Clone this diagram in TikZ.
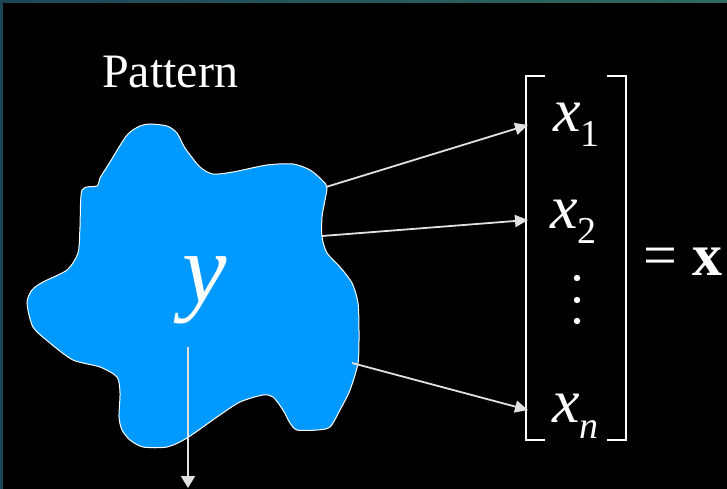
\documentclass[tikz,border=0pt]{standalone}
\usepackage{fontspec}
\setmainfont{Liberation Serif}
\usetikzlibrary{arrows.meta}
\definecolor{blobblue}{RGB}{0,153,255}
\definecolor{frameL}{RGB}{28,70,86}
\definecolor{frameR}{RGB}{47,107,96}
\definecolor{arrowgray}{RGB}{225,225,225}
\newcommand{\xcomp}[2][-15pt]{\textit{x}\raisebox{#1}{\fontsize{38}{38}\selectfont #2}}
\tikzset{
	feat/.style={draw=arrowgray,line width=1.8pt,-{Triangle[length=13pt,width=12pt]}},
	comp/.style={inner sep=0pt,anchor=base west,text=white,font=\fontsize{62}{62}\selectfont},
	brack/.style={draw=white,line width=2pt},
}
\begin{document}
\begin{tikzpicture}[x=1pt,y=-1pt]
		%%Khung nền
		\def \W{727}
		\def \H{489}
		\useasboundingbox (0,0) rectangle (\W,\H);
		\fill[black] (0,0) rectangle (\W,\H);
		\shade[left color=frameL,right color=frameR] (0,0) rectangle (\W,3);
		\fill[frameL] (0,0) rectangle (3,\H);
		%%Hình mẫu
		\draw[white,line width=1pt,fill=blobblue] plot[smooth cycle,tension=0.45] coordinates {
			(140,126) (150,124) (167,126) (177,133) (185,148) (200,167) (213,174)
			(233,172) (267,165) (293,164) (310,170) (322,180) (327,187)
			(325,200) (322,217) (322,237) (327,253) (340,267) (352,283) (358,303)
			(359,333) (358,363) (350,390) (340,410) (330,427) (317,430) (297,430)
			(290,423) (283,410) (273,397) (263,395) (240,402) (217,417) (187,438)
			(167,447) (143,447) (130,440) (122,430) (119,417) (120,393) (117,377)
			(100,367) (73,360) (50,343) (33,327) (27,303) (32,290) (43,282)
			(67,270) (78,253) (80,227) (82,190) (97,186) (100,178) (110,162) (127,135)};
		\node[inner sep=0pt,anchor=base west,text=white,font=\fontsize{48}{48}\selectfont] (pattern) at (102,88) {Pattern};
		\node[inner sep=0pt,anchor=base,text=white,font=\fontsize{100}{100}\selectfont\itshape] (ylbl) at (205,302) {y};
		%%Các điểm đầu, cuối mũi tên
		\coordinate (s1) at (326,187);
		\coordinate (s2) at (322,236);
		\coordinate (sn) at (352,363);
		\coordinate (sy) at (188,347);
		\coordinate (e1) at (528,125);
		\coordinate (e2) at (528,220);
		\coordinate (en) at (528,410);
		\coordinate (ey) at (188,488);
		%%Vector đặc trưng
		\draw[brack] (545,76) -| (526,440) -- (545,440);
		\draw[brack] (607,76) -| (626,440) -- (607,440);
		\node[comp] (x1) at (553,132) {\xcomp{1}};
		\node[comp] (x2) at (550,228) {\xcomp{2}};
		\node[comp] (xn) at (552,422) {\xcomp[-16pt]{\textit{n}}};
		\foreach \y in {278,300,321} \fill[white] (577,\y) circle (3.2);
		\node[comp,font=\fontsize{60}{60}\selectfont] (eqx) at (643,275) {= \textbf{x}};
		%%Mũi tên
		\draw[feat] (s1) -- (e1);
		\draw[feat] (s2) -- (e2);
		\draw[feat] (sn) -- (en);
		\draw[feat,-{Triangle[length=12pt,width=14pt]}] (sy) -- (ey);
	\end{tikzpicture}
\end{document}
